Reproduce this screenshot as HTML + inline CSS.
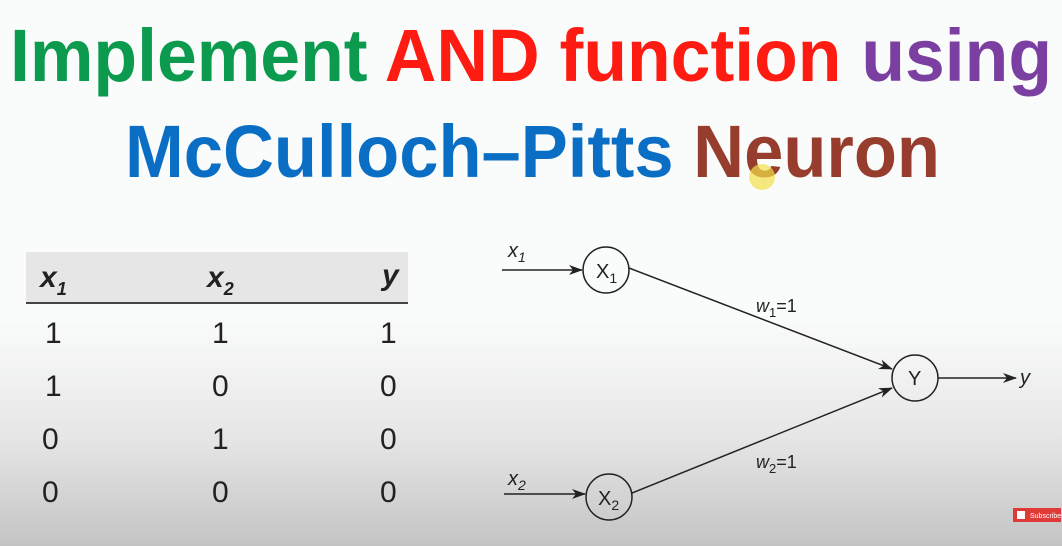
<!DOCTYPE html>
<html><head><meta charset="utf-8"><style>
html,body{margin:0;padding:0}
body{width:1062px;height:546px;overflow:hidden;background:linear-gradient(to bottom,#fafcfb 0%,#fafcfb 58%,#e6e6e6 80%,#c4c4c4 100%);font-family:"Liberation Sans",sans-serif}
svg{position:absolute;left:0;top:0}
</style></head><body>
<svg width="1062" height="546" viewBox="0 0 1062 546">
<defs><marker id="a" markerWidth="14" markerHeight="10" refX="13" refY="5" orient="auto" markerUnits="userSpaceOnUse"><path d="M0,0 L14,5 L0,10 L4,5 z" fill="#222"/></marker></defs>
<g font-weight="bold" font-size="74">
<text x="10" y="81" textLength="1042" lengthAdjust="spacingAndGlyphs"><tspan fill="#0b9a4e">Implement </tspan><tspan fill="#fe1b12">AND function </tspan><tspan fill="#7a3fa0">using</tspan></text>
<text x="125" y="177" textLength="815" lengthAdjust="spacingAndGlyphs"><tspan fill="#0a6ec4">McCulloch–Pitts </tspan><tspan fill="#973d2e">Neuron</tspan></text>
</g>
<circle cx="762" cy="177" r="13" fill="#f2e04a" opacity="0.7"/>
<rect x="26" y="252" width="382" height="50" fill="#e6e6e6"/>
<line x1="26" y1="303" x2="408" y2="303" stroke="#444" stroke-width="2"/>
<g fill="#222" font-size="30">
<text x="40" y="287" font-weight="bold" font-style="italic">x<tspan font-size="18" dy="8">1</tspan></text>
<text x="207" y="287" font-weight="bold" font-style="italic">x<tspan font-size="18" dy="8">2</tspan></text>
<text x="382" y="285" font-weight="bold" font-style="italic">y</text>
<text x="45" y="343">1</text><text x="212" y="343">1</text><text x="380" y="343">1</text>
<text x="45" y="396">1</text><text x="212" y="396">0</text><text x="380" y="396">0</text>
<text x="42" y="449">0</text><text x="212" y="449">1</text><text x="380" y="449">0</text>
<text x="42" y="502">0</text><text x="212" y="502">0</text><text x="380" y="502">0</text>
</g>
<g stroke="#222" stroke-width="1.5" fill="none">
<circle cx="606" cy="270" r="23"/>
<circle cx="609" cy="497" r="23"/>
<circle cx="915" cy="378" r="23"/>
<line x1="502" y1="270" x2="582" y2="270" marker-end="url(#a)"/>
<line x1="504" y1="494" x2="585" y2="494" marker-end="url(#a)"/>
<line x1="629" y1="268" x2="892" y2="369" marker-end="url(#a)"/>
<line x1="632" y1="493" x2="892" y2="388" marker-end="url(#a)"/>
<line x1="938" y1="378" x2="1016" y2="378" marker-end="url(#a)"/>
</g>
<g fill="#222" font-size="20">
<text x="508" y="257" font-style="italic">x<tspan font-size="14" dy="5">1</tspan></text>
<text x="508" y="485" font-style="italic">x<tspan font-size="14" dy="5">2</tspan></text>
<text x="596" y="278">X<tspan font-size="14" dy="5">1</tspan></text>
<text x="598" y="505">X<tspan font-size="14" dy="5">2</tspan></text>
<text x="908" y="385">Y</text>
<text x="1020" y="384" font-style="italic">y</text>
<text x="756" y="312" font-size="18"><tspan font-style="italic">w</tspan><tspan font-size="13" dy="5">1</tspan><tspan dy="-5">=1</tspan></text>
<text x="756" y="468" font-size="18"><tspan font-style="italic">w</tspan><tspan font-size="13" dy="5">2</tspan><tspan dy="-5">=1</tspan></text>
</g>
<rect x="1013" y="508" width="48" height="14" fill="#e03a36"/>
<text x="1030" y="518" font-size="7" fill="#fff">Subscribe</text>
<rect x="1017" y="511" width="8" height="8" fill="#fff"/>
</svg>
</body></html>
